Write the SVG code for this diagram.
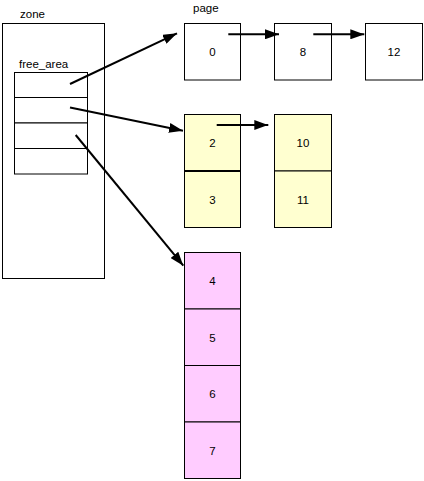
<svg xmlns="http://www.w3.org/2000/svg" width="424" height="481" viewBox="0 0 424 481">
<defs>
<marker id="ah" markerWidth="7" markerHeight="5" refX="7" refY="2.5" orient="auto" markerUnits="strokeWidth">
<path d="M0,0 L7,2.5 L0,5 Z" fill="#000"/>
</marker>
<style>
text{font-family:"Liberation Sans",Arial,sans-serif;font-size:11.5px;fill:#000}
.n{text-anchor:middle}
.b{stroke:#000;stroke-width:1;fill:#fff}
.y{stroke:#000;stroke-width:1;fill:#ffffd0}
.p{stroke:#000;stroke-width:1;fill:#ffccff}
.c{stroke:#000;stroke-width:2;fill:none;marker-end:url(#ah)}
</style>
</defs>
<rect width="424" height="481" fill="#fff"/>
<g id="zone">
<rect class="b" x="2.5" y="23.5" width="102" height="255"/>
<text x="20" y="17.5">zone</text>
</g>
<g id="free_area">
<text x="19" y="68">free_area</text>
<rect class="b" x="14.5" y="72.5" width="73" height="25"/>
<rect class="b" x="14.5" y="97.5" width="73" height="25.5"/>
<rect class="b" x="14.5" y="123" width="73" height="25.5"/>
<rect class="b" x="14.5" y="148.5" width="73" height="25.5"/>
</g>
<text x="193" y="12">page</text>
<g id="page0"><rect class="b" x="184.5" y="23.5" width="56" height="56.5"/><text class="n" x="212.5" y="56">0</text></g>
<g id="page8"><rect class="b" x="274.5" y="23.5" width="57" height="56.5"/><text class="n" x="303" y="56">8</text></g>
<g id="page12"><rect class="b" x="365.5" y="23.5" width="57" height="56.5"/><text class="n" x="394" y="56">12</text></g>
<g id="page2"><rect class="y" x="184.5" y="114.5" width="56" height="56.5"/><text class="n" x="212.5" y="147">2</text></g>
<g id="page3"><rect class="y" x="184.5" y="171" width="56" height="56.5"/><text class="n" x="212.5" y="204">3</text></g>
<line x1="184.5" y1="171" x2="240.5" y2="171" stroke="#000" stroke-width="2"/>
<g id="page10"><rect class="y" x="274.5" y="114.5" width="57" height="56.5"/><text class="n" x="303" y="147">10</text></g>
<g id="page11"><rect class="y" x="274.5" y="171" width="57" height="56.5"/><text class="n" x="303" y="204">11</text></g>
<g id="page4"><rect class="p" x="184.5" y="252.5" width="56" height="56.5"/><text class="n" x="212.5" y="285">4</text></g>
<g id="page5"><rect class="p" x="184.5" y="309" width="56" height="56.5"/><text class="n" x="212.5" y="341.5">5</text></g>
<g id="page6"><rect class="p" x="184.5" y="365.5" width="56" height="56.5"/><text class="n" x="212.5" y="398">6</text></g>
<g id="page7"><rect class="p" x="184.5" y="422" width="56" height="56.5"/><text class="n" x="212.5" y="454.5">7</text></g>
<g id="connectors">
<line class="c" x1="70" y1="84" x2="177" y2="33.3"/>
<line class="c" x1="70" y1="107.5" x2="183" y2="130.7"/>
<line class="c" x1="75.7" y1="135" x2="183.3" y2="265.7"/>
<line class="c" x1="228.3" y1="34.3" x2="279" y2="34.3"/>
<line class="c" x1="313.3" y1="34.3" x2="364.3" y2="34.3"/>
<line class="c" x1="216.7" y1="125" x2="268.3" y2="125"/>
</g>
</svg>
